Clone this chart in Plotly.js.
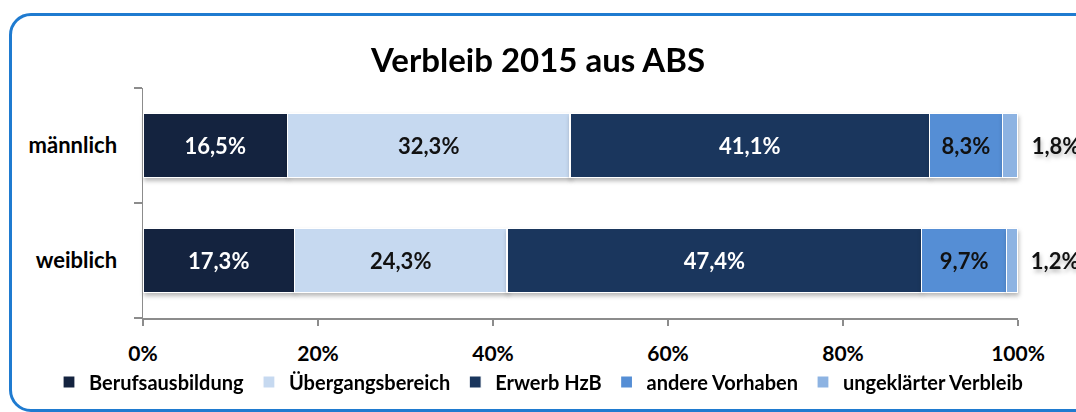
<!DOCTYPE html>
<html>
<head>
<meta charset="utf-8">
<script src="https://cdn.plot.ly/plotly-3.0.1.min.js"></script>
<style>
  html, body { margin: 0; padding: 0; background: #ffffff; }
  #wrap { position: relative; width: 1076px; height: 412px; overflow: hidden; }
  #chart { position: absolute; left: 0; top: 0; width: 1076px; height: 412px; }
  #frame { position: absolute; left: 9px; top: 13px; width: 1110px; height: 399px;
           box-sizing: border-box; border: 3px solid #1f7bd0; border-radius: 22px;
           pointer-events: none; }
  .barlayer .trace { filter: drop-shadow(1px 3px 2px rgba(0,0,0,0.28)); }
</style>
</head>
<body>
<div id="wrap">
  <div id="chart"></div>
  <div id="frame"></div>
</div>
<script>
const categories = ["weiblich", "männlich"];
const seriesNames = ["Berufsausbildung", "Übergangsbereich", "Erwerb HzB", "andere Vorhaben", "ungeklärter Verbleib"];
const berufsausbildung = [17.3, 16.5];
const uebergangsbereich = [24.3, 32.3];
const erwerbHzB = [47.4, 41.1];
const andereVorhaben = [9.7, 8.3];
const ungeklaert = [1.2, 1.8];
const tickValues = [0, 20, 40, 60, 80, 100];
const tickLabels = ["0%", "20%", "40%", "60%", "80%", "100%"];

const seriesValues = [berufsausbildung, uebergangsbereich, erwerbHzB, andereVorhaben, ungeklaert];
const colors = ["#14233f", "#c6d9f0", "#1a365d", "#558ed5", "#8db3e2"];
const textColors = ["#ffffff", "#111111", "#ffffff", "#111111", "#111111"];
const FONT = "Lato, 'Open Sans', sans-serif";

function fmt(v) { return v.toFixed(1).replace(".", ",") + "%"; }

const traces = seriesValues.map((vals, i) => {
  const last = i === seriesValues.length - 1;
  return {
    type: "bar",
    orientation: "h",
    name: seriesNames[i],
    y: categories,
    x: vals,
    marker: { color: colors[i], line: { color: "#ffffff", width: 1.2 } },
    text: vals.map(v => last ? "\u00a0\u00a0" + fmt(v) : fmt(v)),
    textposition: last ? "outside" : "inside",
    insidetextanchor: "middle",
    constraintext: "none",
    cliponaxis: false,
    textfont: { family: FONT, size: 22, weight: "bold", color: textColors[i] },
    hoverinfo: "skip"
  };
});

const layout = {
  width: 1076,
  height: 412,
  margin: { l: 143, r: 58, t: 88, b: 93 },
  paper_bgcolor: "rgba(0,0,0,0)",
  plot_bgcolor: "rgba(0,0,0,0)",
  barmode: "stack",
  bargap: 0.437,
  showlegend: true,
  font: { family: FONT, color: "#000000" },
  title: {
    text: "Verbleib 2015 aus ABS",
    font: { family: FONT, size: 33, weight: "bold", color: "#000000" },
    x: 0.5, xref: "container", xanchor: "center",
    y: 1 - 60 / 412, yref: "container", yanchor: "middle"
  },
  xaxis: {
    range: [0, 100],
    tickvals: tickValues,
    ticktext: tickLabels,
    showgrid: false,
    zeroline: false,
    showline: true,
    linecolor: "#8c8c8c",
    linewidth: 1.5,
    ticks: "outside",
    ticklen: 6,
    tickcolor: "#8c8c8c",
    tickwidth: 1.5,
    ticklabelstandoff: 10,
    tickfont: { family: FONT, size: 21, weight: "bold", color: "#000000" },
    fixedrange: true
  },
  yaxis: {
    type: "category",
    categoryorder: "array",
    categoryarray: categories,
    range: [-0.5, 1.5],
    showgrid: false,
    zeroline: false,
    showline: true,
    linecolor: "#8c8c8c",
    linewidth: 1.5,
    ticks: "outside",
    tickson: "boundaries",
    ticklen: 8,
    tickcolor: "#8c8c8c",
    tickwidth: 1.5,
    ticklabelstandoff: 20,
    tickfont: { family: FONT, size: 22, weight: "bold", color: "#000000" },
    fixedrange: true
  },
  legend: {
    orientation: "h",
    xref: "paper", yref: "paper",
    x: (49 - 143) / 875, xanchor: "left",
    y: (319 - 382) / 231, yanchor: "middle",
    font: { family: FONT, size: 20, weight: "bold", color: "#000000" },
    traceorder: "normal",
    itemwidth: 30,
    bgcolor: "rgba(0,0,0,0)"
  }
};

Plotly.newPlot("chart", traces, layout, { displayModeBar: false, staticPlot: true });
</script>
</body>
</html>
